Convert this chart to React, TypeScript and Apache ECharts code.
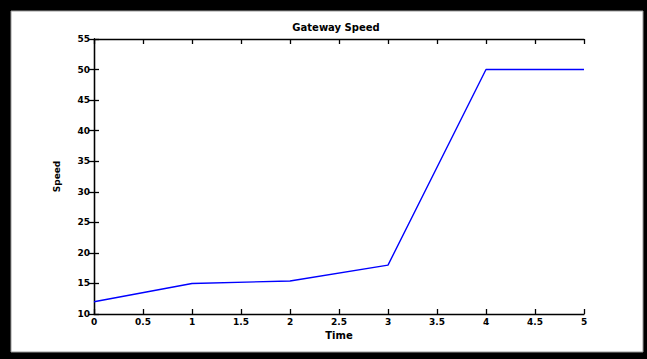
import React, { useEffect, useRef } from "react";
import * as echarts from "echarts";

const time = [0, 1, 2, 3, 4, 5];
const speed = [12, 15, 15.4, 18, 50, 50];
const titleText = "Gateway Speed";
const xName = "Time";
const yName = "Speed";

export default function App() {
  const ref = useRef<HTMLDivElement>(null);
  useEffect(() => {
    if (!ref.current) return;
    const chart = echarts.init(ref.current, undefined, { renderer: "svg" });
    const font = "DejaVu Sans";
    const tickLabel = { fontSize: 9, fontWeight: "bold" as const, color: "#000", fontFamily: font };
    const axisLine = { show: true, lineStyle: { color: "#000", width: 1.3 } };
    const axisTick = { show: true, inside: true, length: 5, lineStyle: { color: "#000", width: 1.3 } };
    chart.setOption({
      animation: false,
      backgroundColor: "#000",
      graphic: [
        {
          type: "rect",
          z: -100,
          shape: { x: 11, y: 11, width: 632, height: 341 },
          style: { fill: "#fff", stroke: "#999", lineWidth: 1 },
        },
      ],
      title: {
        text: titleText,
        left: 331,
        top: 17,
        textAlign: "center",
        textStyle: { fontSize: 10, fontWeight: "bold", color: "#000", fontFamily: font },
      },
      grid: { left: 94, top: 39, right: 63, bottom: 45 },
      xAxis: [
        {
          type: "value",
          min: 0,
          max: 5,
          interval: 0.5,
          name: xName,
          nameLocation: "middle",
          nameGap: 15,
          nameTextStyle: { fontSize: 10, fontWeight: "bold", color: "#000", fontFamily: font },
          axisLine,
          axisTick,
          splitLine: { show: false },
          axisLabel: { ...tickLabel, margin: 3 },
        },
        {
          type: "value",
          position: "top",
          min: 0,
          max: 5,
          interval: 0.5,
          axisLine,
          axisTick,
          splitLine: { show: false },
          axisLabel: { show: false },
        },
      ],
      yAxis: [
        {
          type: "value",
          min: 10,
          max: 55,
          interval: 5,
          name: yName,
          nameLocation: "middle",
          nameGap: 33,
          nameRotate: 90,
          nameTextStyle: { fontSize: 9, fontWeight: "bold", color: "#000", fontFamily: font },
          axisLine,
          axisTick,
          splitLine: { show: false },
          axisLabel: { ...tickLabel, margin: 4 },
        },
        {
          type: "value",
          position: "right",
          min: 10,
          max: 55,
          interval: 5,
          axisLine,
          axisTick,
          splitLine: { show: false },
          axisLabel: { show: false },
        },
      ],
      series: [
        {
          type: "line",
          data: time.map((t, i) => [t, speed[i]]),
          showSymbol: false,
          symbol: "none",
          lineStyle: { color: "#0000ff", width: 1.4 },
          z: 3,
        },
      ],
    });
    return () => chart.dispose();
  }, []);
  return (
    <div
      ref={ref}
      style={{ position: "fixed", left: 0, top: 0, width: 647, height: 359 }}
    />
  );
}
